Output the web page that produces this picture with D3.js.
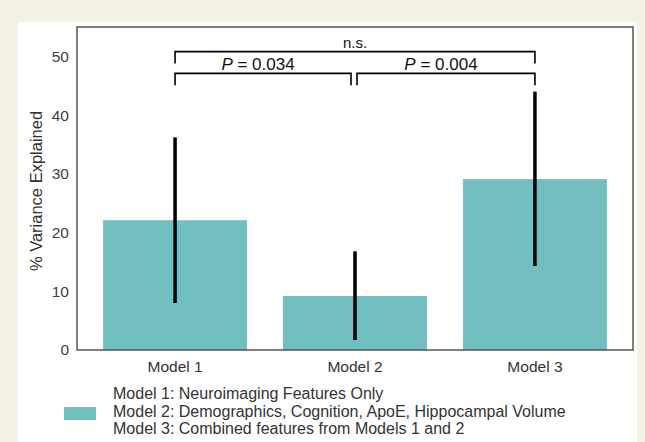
<!DOCTYPE html>
<html>
<head>
<meta charset="utf-8">
<script src="https://cdn.jsdelivr.net/npm/d3@7"></script>
<style>
  body { margin: 0; background: #f4f1e5; }
  svg { display: block; }
</style>
</head>
<body>
<script>
// values
const models = ['Model 1', 'Model 2', 'Model 3'];
const variance = [22.1, 9.2, 29.1];
const errLow = [8.0, 1.7, 14.3];
const errHigh = [36.2, 16.8, 44.0];
const yTicks = [0, 10, 20, 30, 40, 50];
const legendLines = [
    'Model 1: Neuroimaging Features Only',
    'Model 2: Demographics, Cognition, ApoE, Hippocampal Volume',
    'Model 3: Combined features from Models 1 and 2'
];
// significance brackets: from / to model index, level, label
const brackets = [
    {from: 0, to: 1, level: 47.1, label: 'P = 0.034'},
    {from: 1, to: 2, level: 47.1, label: 'P = 0.004'},
    {from: 0, to: 2, level: 50.8, label: 'n.s.'}
];

const width = 645, height = 442;
const frame = {left: 77, right: 633, top: 27, bottom: 350};
const teal = '#71bfc0';
const font = 'Liberation Sans, Arial, sans-serif';

const svg = d3.select('body').append('svg')
    .attr('width', width)
    .attr('height', height);

// white panel on the cream page
svg.append('rect')
    .attr('x', 18).attr('y', 22)
    .attr('width', 619).attr('height', height - 22)
    .style('fill', '#ffffff');

const x = d3.scaleBand()
    .domain(models)
    .range([frame.left, frame.right])
    .paddingInner(0.2)
    .paddingOuter(0.145);

const y = d3.scaleLinear()
    .domain([0, 55])
    .range([frame.bottom, frame.top]);

// bars
svg.selectAll('.bar')
    .data(models)
    .join('rect')
        .attr('class', 'bar')
        .attr('x', d => x(d))
        .attr('width', x.bandwidth())
        .attr('y', (d, i) => y(variance[i]))
        .attr('height', (d, i) => y(0) - y(variance[i]))
        .style('fill', teal);

// error bars
svg.selectAll('.err')
    .data(models)
    .join('line')
        .attr('class', 'err')
        .attr('x1', d => x(d) + x.bandwidth() / 2)
        .attr('x2', d => x(d) + x.bandwidth() / 2)
        .attr('y1', (d, i) => y(errLow[i]))
        .attr('y2', (d, i) => y(errHigh[i]))
        .style('stroke', '#000')
        .style('stroke-width', 3.5);

// frame
svg.append('rect')
    .attr('x', frame.left).attr('y', frame.top)
    .attr('width', frame.right - frame.left)
    .attr('height', frame.bottom - frame.top)
    .style('fill', 'none')
    .style('stroke', '#555')
    .style('stroke-width', 1.5);

// y axis, labels only
const yAxis = svg.append('g')
    .attr('transform', `translate(${frame.left},0)`)
    .call(d3.axisLeft(y).tickValues(yTicks).tickSize(0).tickPadding(8));
yAxis.select('.domain').remove();
yAxis.selectAll('text')
    .style('font-family', font)
    .style('font-size', '15.5px')
    .style('fill', '#404040');

// x axis, labels only
const xAxis = svg.append('g')
    .attr('transform', `translate(0,${frame.bottom})`)
    .call(d3.axisBottom(x).tickSize(0).tickPadding(11));
xAxis.select('.domain').remove();
xAxis.selectAll('text')
    .style('font-family', font)
    .style('font-size', '15.5px')
    .style('fill', '#333');

svg.append('text')
    .attr('transform', 'translate(42,191) rotate(-90)')
    .attr('text-anchor', 'middle')
    .style('font-family', font)
    .style('font-size', '16.5px')
    .style('fill', '#333')
    .text('% Variance Explained');

// significance brackets
const cx = i => x(models[i]) + x.bandwidth() / 2;
const drop = 2;
brackets.forEach(b => {
    let x1 = cx(b.from), x2 = cx(b.to);
    if (b.to - b.from == 1) {
        // adjacent brackets leave a small gap at the shared bar
        if (b.from == 1) x1 += 2;
        if (b.to == 1) x2 -= 4;
    }
    svg.append('path')
        .attr('d', `M${x1},${y(b.level - drop)}V${y(b.level)}H${x2}V${y(b.level - drop)}`)
        .style('fill', 'none')
        .style('stroke', '#000')
        .style('stroke-width', 1.6);
    let t = svg.append('text')
        .attr('text-anchor', 'middle')
        .style('font-family', font)
        .style('fill', '#111');
    if (b.label.startsWith('P')) {
        t.attr('x', (x1 + x2) / 2 - 5)
            .attr('y', y(b.level) - 3)
            .style('font-size', '17px');
        t.append('tspan').style('font-style', 'italic').text('P');
        t.append('tspan').text(b.label.slice(1));
    } else {
        t.attr('x', (x1 + x2) / 2)
            .attr('y', y(b.level) - 4)
            .style('font-size', '15px')
            .text(b.label);
    }
});

// legend
svg.append('rect')
    .attr('x', 64).attr('y', 407)
    .attr('width', 32).attr('height', 13)
    .style('fill', teal);

svg.selectAll('.legend')
    .data(legendLines)
    .join('text')
        .attr('class', 'legend')
        .attr('x', 113)
        .attr('y', (d, i) => 399 + i * 17.5)
        .style('font-family', font)
        .style('font-size', '16px')
        .style('fill', '#333')
        .text(d => d);
</script>
</body>
</html>
